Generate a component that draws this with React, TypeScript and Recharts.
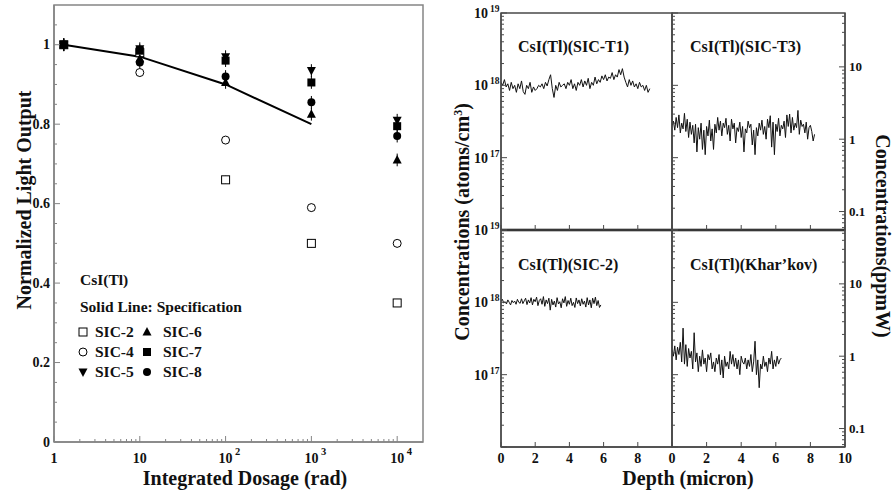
import React from 'react';
import { ComposedChart, LineChart, Line, Scatter, XAxis, YAxis, ErrorBar, ReferenceArea } from 'recharts';

const SERIF = '"Liberation Serif", "Times New Roman", "DejaVu Serif", serif';
const W = 896;
const H = 492;

// ---------- Left panel: light output vs dose ----------
const DOSE = [1.3, 10, 100, 1000, 10000];
const SIC2 = [1.0, 0.98, 0.66, 0.5, 0.35];
const SIC4 = [1.0, 0.93, 0.76, 0.59, 0.5];
const SIC5 = [1.0, 0.99, 0.97, 0.935, 0.81];
const SIC6 = [1.0, 0.965, 0.905, 0.825, 0.71];
const SIC7 = [1.0, 0.985, 0.96, 0.905, 0.795];
const SIC8 = [1.0, 0.955, 0.92, 0.855, 0.77];
const ERR_OPEN = 0.01;
const ERR_FILLED = 0.016;
const SPEC_DOSE = [1.3, 10, 100, 1000];
const SPEC_VALUE = [1.0, 0.97, 0.9, 0.8];

const DOSE_MAJOR = [1, 10, 100, 1000, 10000];
const DOSE_LABELS = [
  { b: '1', e: '' },
  { b: '10', e: '' },
  { b: '10', e: '2' },
  { b: '10', e: '3' },
  { b: '10', e: '4' },
];
const LO_MAJOR = [0, 0.2, 0.4, 0.6, 0.8, 1];
const LO_LABELS = ['0', '0.2', '0.4', '0.6', '0.8', '1'];

// ---------- Right panel: concentration depth profiles (units of 1e17 atoms/cm3) ----------
const T1_STEP = 0.1;
const T1 = [
  11, 10, 12, 9.5, 10.5, 8.5, 11, 9, 10, 8,
  10.5, 9, 11.5, 8.2, 7.5, 10, 9, 11, 8, 9.5,
  8.5, 9, 10, 9.5, 10.5, 9, 11, 9.8, 12, 14,
  9, 6.8, 10, 8.5, 11, 9.5, 10, 10.5, 9, 11,
  10, 12, 9, 10.5, 8.5, 11, 10, 12, 9.5, 11.5,
  10, 12.5, 9, 11, 10, 13, 10.5, 12, 11, 13.5,
  12, 14, 11.5, 13, 12.5, 15, 12, 14, 13, 16.5,
  14, 17, 13, 11, 9.5, 12, 10, 11.5, 9.5, 10.5,
  9, 11, 9.5, 10, 8.5, 10, 8, 9,
];
const T3_STEP = 0.08;
const T3 = [
  2.8, 3.2, 2.4, 3.6, 2.6, 3.9, 2.2, 3.0, 2.5, 4.1,
  2.3, 3.4, 1.9, 3.1, 2.1, 2.8, 1.6, 2.9, 1.2, 2.6,
  1.8, 3.0, 1.3, 2.4, 1.1, 2.7, 2.0, 3.3, 1.7, 2.5,
  1.3, 2.9, 2.2, 3.6, 2.4, 3.2, 2.0, 3.0, 2.6, 3.5,
  2.1, 2.8, 1.7, 3.4, 2.5, 3.0, 1.6, 2.6, 2.3, 3.1,
  1.9, 2.7, 1.2, 2.5, 2.2, 3.2, 2.6, 2.9, 1.5, 2.4,
  1.1, 2.6, 2.0, 3.0, 2.4, 3.3, 2.1, 2.7, 1.8, 3.4,
  2.6, 3.8, 1.4, 3.1, 1.1, 2.9, 2.3, 3.5, 2.0, 2.8,
  2.5, 3.2, 1.9, 3.9, 2.7, 4.0, 2.2, 3.6, 2.4, 3.0,
  2.6, 4.5, 2.1, 3.3, 2.7, 2.9, 2.2, 3.1, 1.8, 2.6,
  2.8, 2.3, 1.7, 2.1,
];
const S2_STEP = 0.08;
const S2 = [
  10.5, 11, 9.8, 10.2, 9.5, 10.8, 10, 9.2, 10.6, 9.9,
  10.4, 9.4, 11, 10, 9.7, 11.2, 9.6, 10.5, 11.4, 9.3,
  10.8, 9.8, 11.6, 9.2, 11, 10.2, 11.8, 9, 10.6, 11.2,
  9.4, 12, 8.8, 10.8, 9.6, 11.4, 7.8, 11, 9.2, 10.4,
  8.6, 11.6, 9.5, 10.2, 8.4, 11.2, 9.8, 12, 8.8, 10.6,
  9.4, 11.4, 9, 10, 8.5, 11.5, 9.6, 10.8, 8.9, 11.2,
  9.4, 10.4, 8.6, 11.6, 9.2, 10.8, 8.4, 11.4, 9.6, 11.8,
  9, 10.6, 8.5, 9.2,
];
const KH_STEP = 0.08;
const KH = [
  2.2, 1.8, 2.5, 1.6, 2.4, 1.9, 2.8, 1.5, 4.4, 1.4,
  2.6, 1.3, 2.3, 1.7, 2.1, 1.2, 3.8, 1.5, 2.0, 1.1,
  1.8, 1.3, 2.2, 1.4, 1.7, 1.1, 1.9, 1.6, 2.0, 1.2,
  1.5, 1.1, 1.7, 1.4, 1.9, 1.0, 1.6, 0.9, 1.8, 1.3,
  1.5, 1.2, 2.1, 1.4, 1.9, 1.3, 1.7, 1.2, 1.6, 1.0,
  1.8, 1.5, 1.4, 1.7, 1.2, 1.6, 1.3, 1.9, 1.1, 1.5,
  2.9, 1.0, 1.6, 0.66, 1.4, 1.2, 1.8, 1.3, 1.5, 1.1,
  1.7, 1.4, 2.1, 1.2, 1.6, 1.3, 1.8, 1.4, 1.6, 1.7,
];

const CONC_MAJOR = [0.1, 1, 10, 100];
const CONC_EXP = ['16', '17', '18', '19'];
const PPM_PER_UNIT = 1.8; // 1 ppmW ~ 1.8e17 atoms/cm3
const PPM_MAJOR = [0.1, 1, 10];
const PPM_LABELS = ['0.1', '1', '10'];
const DEPTH_TICKS = [0, 2, 4, 6, 8, 10];

const minorLog = (bases: number[], lo: number, hi: number) => {
  const out: number[] = [];
  bases.forEach((b) => {
    for (let k = 2; k <= 9; k++) {
      const v = Number((b * k).toPrecision(3));
      if (v > lo && v < hi) out.push(v);
    }
  });
  return out;
};
const DOSE_TICKS = [...DOSE_MAJOR, ...minorLog([1, 10, 100, 1000, 10000], 1, 20000)].sort((a, b) => a - b);
const LO_TICKS = [0, 0.05, 0.1, 0.15, 0.2, 0.25, 0.3, 0.35, 0.4, 0.45, 0.5, 0.55, 0.6, 0.65, 0.7, 0.75, 0.8, 0.85, 0.9, 0.95, 1, 1.05];
const CONC_TICKS = [...CONC_MAJOR, ...minorLog([0.1, 1, 10], 0.1, 100)].sort((a, b) => a - b);
const PPM_DOMAIN = [0.1 / PPM_PER_UNIT, 100 / PPM_PER_UNIT];
const PPM_TICKS = [...PPM_MAJOR, ...minorLog([0.01, 0.1, 1, 10], PPM_DOMAIN[0], PPM_DOMAIN[1])].sort((a, b) => a - b);

const near = (a: number, b: number) => Math.abs(a - b) < 1e-6 * Math.max(1, Math.abs(b));
const idxOf = (arr: number[], v: number) => arr.findIndex((m) => near(m, v));

const LEFT_FRAME = '#858585';
const RIGHT_FRAME = '#4a4a4a';
const TXT = '#111';

// ---------- markers ----------
type Kind = 'openSquare' | 'openCircle' | 'downTri' | 'upTri' | 'square' | 'circle';
function Mark({ cx, cy, kind }: { cx: number; cy: number; kind: Kind }) {
  if (cx == null || cy == null) return null;
  const h = 4;
  switch (kind) {
    case 'openSquare':
      return <rect x={cx - h} y={cy - h} width={2 * h} height={2 * h} fill="#fff" stroke="#000" strokeWidth={1} />;
    case 'openCircle':
      return <circle cx={cx} cy={cy} r={h} fill="#fff" stroke="#000" strokeWidth={1} />;
    case 'square':
      return <rect x={cx - h} y={cy - h} width={2 * h} height={2 * h} fill="#000" />;
    case 'circle':
      return <circle cx={cx} cy={cy} r={h} fill="#000" />;
    case 'upTri':
      return <path d={`M${cx},${cy - h - 1} L${cx + h + 0.5},${cy + h - 0.5} L${cx - h - 0.5},${cy + h - 0.5} Z`} fill="#000" />;
    case 'downTri':
      return <path d={`M${cx},${cy + h + 1} L${cx + h + 0.5},${cy - h + 0.5} L${cx - h - 0.5},${cy - h + 0.5} Z`} fill="#000" />;
  }
  return null;
}

const sicData = (vals: number[], err: number) => DOSE.map((x, i) => ({ x, y: vals[i], e: err }));
const SPEC_DATA = SPEC_DOSE.map((x, i) => ({ x, y: SPEC_VALUE[i] }));

const SERIES: { name: string; vals: number[]; kind: Kind; err: number }[] = [
  { name: 'SIC-2', vals: SIC2, kind: 'openSquare', err: ERR_OPEN },
  { name: 'SIC-4', vals: SIC4, kind: 'openCircle', err: ERR_OPEN },
  { name: 'SIC-6', vals: SIC6, kind: 'upTri', err: ERR_FILLED },
  { name: 'SIC-8', vals: SIC8, kind: 'circle', err: ERR_FILLED },
  { name: 'SIC-5', vals: SIC5, kind: 'downTri', err: ERR_FILLED },
  { name: 'SIC-7', vals: SIC7, kind: 'square', err: ERR_FILLED },
];

function DoseTick(p: any) {
  const { x, y, payload } = p;
  const i = idxOf(DOSE_MAJOR, payload.value);
  const len = i >= 0 ? 6 : 3;
  const lab = i >= 0 ? DOSE_LABELS[i] : null;
  return (
    <g>
      <line x1={x} y1={y} x2={x} y2={y - len} stroke={LEFT_FRAME} strokeWidth={1} />
      {lab && (
        <text x={x} y={y + 21} textAnchor="middle" fontFamily={SERIF} fontWeight="bold" fontSize={14} fill={TXT}>
          {lab.b}
        </text>
      )}
      {lab && lab.e && (
        <text x={x + 9.5} y={y + 13} textAnchor="start" fontFamily={SERIF} fontWeight="bold" fontSize={10.5} fill={TXT}>
          {lab.e}
        </text>
      )}
    </g>
  );
}

function LoTick(p: any) {
  const { x, y, payload } = p;
  const i = idxOf(LO_MAJOR, payload.value);
  const len = i >= 0 ? 6 : 3;
  return (
    <g>
      <line x1={x} y1={y} x2={x + len} y2={y} stroke={LEFT_FRAME} strokeWidth={1} />
      {i >= 0 && (
        <text x={x - 4} y={y + 4.5} textAnchor="end" fontFamily={SERIF} fontWeight="bold" fontSize={14} fill={TXT}>
          {LO_LABELS[i]}
        </text>
      )}
    </g>
  );
}

function LeftChart() {
  const plot = { l: 54, t: 5, r: 423, b: 442 };
  return (
    <div style={{ position: 'absolute', left: 0, top: 0, pointerEvents: 'none' }}>
      <ComposedChart width={W} height={H} margin={{ top: plot.t, left: 0, right: W - plot.r, bottom: 0 }}>
        <ReferenceArea x1={1} x2={20000} y1={0} y2={1.1} fill="none" stroke={LEFT_FRAME} strokeWidth={1.5} />
        <XAxis
          dataKey="x"
          type="number"
          scale="log"
          domain={[1, 20000]}
          allowDataOverflow
          ticks={DOSE_TICKS}
          interval={0}
          height={H - plot.b}
          tickSize={0}
          tickMargin={0}
          tickLine={false}
          axisLine={{ stroke: LEFT_FRAME, strokeWidth: 1.5 }}
          tick={(p: any) => <DoseTick {...p} />}
        />
        <YAxis
          dataKey="y"
          type="number"
          domain={[0, 1.1]}
          allowDataOverflow
          ticks={LO_TICKS}
          interval={0}
          width={plot.l}
          tickSize={0}
          tickMargin={0}
          tickLine={false}
          axisLine={{ stroke: LEFT_FRAME, strokeWidth: 1.5 }}
          tick={(p: any) => <LoTick {...p} />}
        />
        <Line data={SPEC_DATA} dataKey="y" stroke="#000" strokeWidth={2} dot={false} isAnimationActive={false} />
        {SERIES.map((s) => (
          <Scatter
            key={s.name}
            name={s.name}
            data={sicData(s.vals, s.err)}
            isAnimationActive={false}
            shape={(p: any) => <Mark cx={p.cx} cy={p.cy} kind={s.kind} />}
          >
            <ErrorBar dataKey="e" direction="y" width={0} stroke="#000" strokeWidth={1} />
          </Scatter>
        ))}
      </ComposedChart>
    </div>
  );
}

// ---------- right panels ----------
type Rect = { l: number; t: number; r: number; b: number };

function ConcTick(p: any) {
  const { x, y, payload, showLabels } = p;
  const i = idxOf(CONC_MAJOR, payload.value);
  const len = i >= 0 ? 6 : 3;
  return (
    <g>
      <line x1={x} y1={y} x2={x + len} y2={y} stroke={RIGHT_FRAME} strokeWidth={1} />
      {showLabels && i >= 1 && (
        <g>
          <text x={x - 13} y={y + 5} textAnchor="end" fontFamily={SERIF} fontWeight="bold" fontSize={14} fill={TXT}>
            10
          </text>
          <text x={x - 11} y={y - 1} textAnchor="start" fontFamily={SERIF} fontWeight="bold" fontSize={9.5} fill={TXT}>
            {CONC_EXP[i]}
          </text>
        </g>
      )}
    </g>
  );
}

function PpmTick(p: any) {
  const { x, y, payload } = p;
  const i = idxOf(PPM_MAJOR, payload.value);
  const len = i >= 0 ? 6 : 3;
  return (
    <g>
      <line x1={x} y1={y} x2={x - len} y2={y} stroke={RIGHT_FRAME} strokeWidth={1} />
      {i >= 0 && (
        <text x={x + 4} y={y + 4.5} textAnchor="start" fontFamily={SERIF} fontWeight="bold" fontSize={13} fill={TXT}>
          {PPM_LABELS[i]}
        </text>
      )}
    </g>
  );
}

function DepthTick(p: any) {
  const { x, y, payload, showLabels, maxLabel } = p;
  const v = payload.value;
  return (
    <g>
      <line x1={x} y1={y} x2={x} y2={y - 5} stroke={RIGHT_FRAME} strokeWidth={1} />
      {showLabels && v <= maxLabel && (
        <text x={x} y={y + 16} textAnchor="middle" fontFamily={SERIF} fontWeight="bold" fontSize={14} fill={TXT}>
          {v}
        </text>
      )}
    </g>
  );
}

function ConcPanel(props: {
  values: number[];
  step: number;
  plot: Rect;
  leftLabels: boolean;
  rightAxis: boolean;
  xLabels: boolean;
  xMaxLabel: number;
  bottomThick: boolean;
}) {
  const { values, step, plot, leftLabels, rightAxis, xLabels, xMaxLabel, bottomThick } = props;
  const data = values.map((c, i) => ({ d: Math.round(i * step * 1000) / 1000, c }));
  return (
    <div style={{ position: 'absolute', left: 0, top: 0, pointerEvents: 'none' }}>
      <LineChart
        width={W}
        height={H}
        data={data}
        margin={{ top: plot.t, left: 0, right: rightAxis ? 0 : W - plot.r, bottom: 0 }}
      >
        <ReferenceArea yAxisId="L" x1={0} x2={10} y1={0.1} y2={100} fill="none" stroke={RIGHT_FRAME} strokeWidth={1.4} />
        <XAxis
          dataKey="d"
          type="number"
          domain={[0, 10]}
          allowDataOverflow
          ticks={DEPTH_TICKS}
          interval={0}
          height={H - plot.b}
          tickSize={0}
          tickMargin={0}
          tickLine={false}
          axisLine={bottomThick ? { stroke: '#000', strokeWidth: 2.4 } : { stroke: RIGHT_FRAME, strokeWidth: 1.4 }}
          tick={(p: any) => <DepthTick {...p} showLabels={xLabels} maxLabel={xMaxLabel} />}
        />
        <YAxis
          yAxisId="L"
          type="number"
          scale="log"
          domain={[0.1, 100]}
          allowDataOverflow
          ticks={CONC_TICKS}
          interval={0}
          width={plot.l}
          tickSize={0}
          tickMargin={0}
          tickLine={false}
          axisLine={{ stroke: RIGHT_FRAME, strokeWidth: 1.4 }}
          tick={(p: any) => <ConcTick {...p} showLabels={leftLabels} />}
        />
        {rightAxis && (
          <YAxis
            yAxisId="R"
            orientation="right"
            type="number"
            scale="log"
            domain={PPM_DOMAIN}
            allowDataOverflow
            ticks={PPM_TICKS}
            interval={0}
            width={W - plot.r}
            tickSize={0}
            tickMargin={0}
            tickLine={false}
            axisLine={{ stroke: RIGHT_FRAME, strokeWidth: 1.4 }}
            tick={(p: any) => <PpmTick {...p} />}
          />
        )}
        <Line yAxisId="L" type="linear" dataKey="c" stroke="#111" strokeWidth={1} dot={false} isAnimationActive={false} />
      </LineChart>
    </div>
  );
}

const TXT_STYLE = { fontFamily: SERIF, fontWeight: 'bold' as const, fill: TXT };

function Overlay() {
  const legendRows: { kind: Kind; name: string }[][] = [
    [
      { kind: 'openSquare', name: 'SIC-2' },
      { kind: 'upTri', name: 'SIC-6' },
    ],
    [
      { kind: 'openCircle', name: 'SIC-4' },
      { kind: 'square', name: 'SIC-7' },
    ],
    [
      { kind: 'downTri', name: 'SIC-5' },
      { kind: 'circle', name: 'SIC-8' },
    ],
  ];
  return (
    <svg width={W} height={H} style={{ position: 'absolute', left: 0, top: 0, pointerEvents: 'none' }}>
      <text transform="translate(31,200) rotate(-90)" textAnchor="middle" fontSize={20} {...TXT_STYLE}>
        Normalized Light Output
      </text>
      <text x={245} y={485} textAnchor="middle" fontSize={20} {...TXT_STYLE}>
        Integrated Dosage (rad)
      </text>
      <text x={80} y={285} fontSize={15.5} {...TXT_STYLE}>
        CsI(Tl)
      </text>
      <text x={80} y={312} fontSize={15.5} {...TXT_STYLE}>
        Solid Line: Specification
      </text>
      {legendRows.map((row, r) =>
        row.map((it, c) => (
          <g key={`${r}-${c}`}>
            <Mark cx={c === 0 ? 83 : 147} cy={332 + r * 20} kind={it.kind} />
            <text x={c === 0 ? 95 : 163} y={337 + r * 20} fontSize={15.5} {...TXT_STYLE}>
              {it.name}
            </text>
          </g>
        ))
      )}
      <text transform="translate(469,222) rotate(-90)" textAnchor="middle" fontSize={20} {...TXT_STYLE}>
        Concentrations (atoms/cm
        <tspan dy={-7} fontSize={12}>
          3
        </tspan>
        <tspan dy={7}>)</tspan>
      </text>
      <text transform="translate(876,236) rotate(90)" textAnchor="middle" fontSize={20} {...TXT_STYLE}>
        Concentrations(ppmW)
      </text>
      <text x={688} y={485} textAnchor="middle" fontSize={20} {...TXT_STYLE}>
        Depth (micron)
      </text>
      <text x={518} y={52} fontSize={16} {...TXT_STYLE}>
        CsI(Tl)(SIC-T1)
      </text>
      <text x={690} y={52} fontSize={16} {...TXT_STYLE}>
        CsI(Tl)(SIC-T3)
      </text>
      <text x={518} y={270} fontSize={16} {...TXT_STYLE}>
        CsI(Tl)(SIC-2)
      </text>
      <text x={690} y={270} fontSize={16} {...TXT_STYLE}>
        CsI(Tl)(Khar’kov)
      </text>
    </svg>
  );
}

export default function App() {
  return (
    <div style={{ position: 'absolute', left: 0, top: 0, width: W, height: H, background: '#fff' }}>
      <LeftChart />
      <ConcPanel values={T1} step={T1_STEP} plot={{ l: 501, t: 13, r: 672, b: 230 }} leftLabels rightAxis={false} xLabels={false} xMaxLabel={8} bottomThick />
      <ConcPanel values={T3} step={T3_STEP} plot={{ l: 672, t: 13, r: 845, b: 230 }} leftLabels={false} rightAxis xLabels={false} xMaxLabel={10} bottomThick />
      <ConcPanel values={S2} step={S2_STEP} plot={{ l: 501, t: 230, r: 672, b: 447 }} leftLabels rightAxis={false} xLabels xMaxLabel={8} bottomThick={false} />
      <ConcPanel values={KH} step={KH_STEP} plot={{ l: 672, t: 230, r: 845, b: 447 }} leftLabels={false} rightAxis xLabels xMaxLabel={10} bottomThick={false} />
      <Overlay />
    </div>
  );
}
